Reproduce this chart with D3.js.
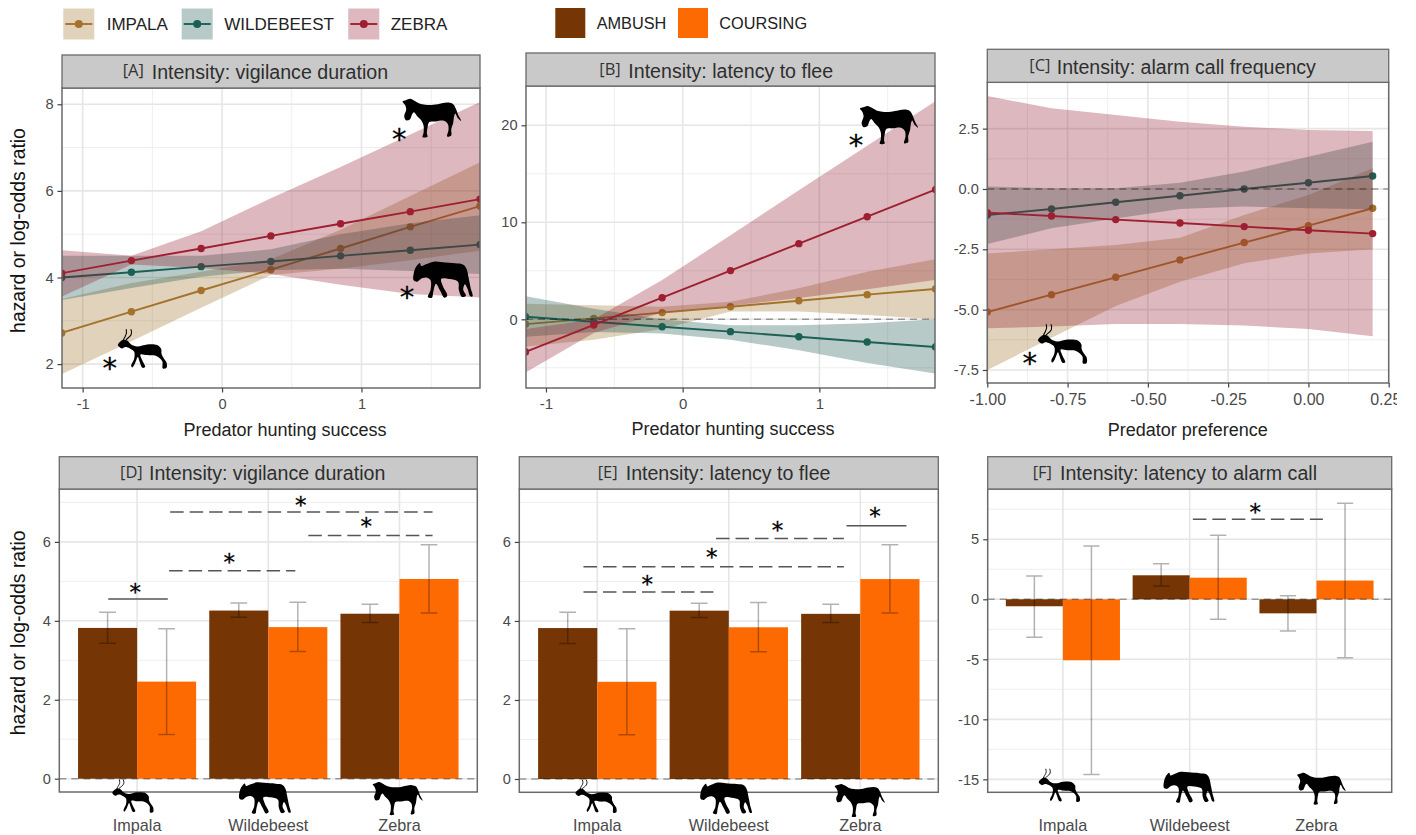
<!DOCTYPE html>
<html>
<head>
<meta charset="utf-8">
<title>Prey responses</title>
<script src="https://cdn.jsdelivr.net/npm/d3@7"></script>
<style>
  html, body { margin: 0; background: #fff; }
  svg { display: block; }
  text { font-family: "Liberation Sans", Arial, sans-serif; }
  .tick text { fill: #4a4a4a; }
</style>
</head>
<body>
<svg id="chart" width="1397" height="835"></svg>
<script>
// values
const species = ["IMPALA", "WILDEBEEST", "ZEBRA"];
const tactics = ["AMBUSH", "COURSING"];
const preyLabels = ["Impala", "Wildebeest", "Zebra"];

const huntX = [-1.15, -0.65, -0.15, 0.35, 0.85, 1.35, 1.85];
const prefX = [-1, -0.8, -0.6, -0.4, -0.2, 0, 0.2];

// [A] vigilance vs hunting success
const aImpala = [2.72, 3.21, 3.7, 4.18, 4.67, 5.17, 5.65];
const aImpalaLo = [1.77, 2.53, 3.3, 4.06, 4.2, 4.4, 4.62];
const aImpalaHi = [3.5, 3.87, 4.13, 4.42, 5.1, 5.88, 6.66];
const aWild = [4.0, 4.12, 4.25, 4.37, 4.5, 4.63, 4.76];
const aWildLo = [3.48, 3.76, 4.02, 4.17, 4.2, 4.15, 4.08];
const aWildHi = [4.5, 4.5, 4.5, 4.65, 5.0, 5.25, 5.44];
const aZebra = [4.1, 4.39, 4.67, 4.96, 5.24, 5.52, 5.81];
const aZebraLo = [3.56, 4.3, 4.22, 4.08, 3.83, 3.62, 3.54];
const aZebraHi = [4.63, 4.5, 5.07, 5.83, 6.55, 7.3, 8.05];

// [B] latency to flee vs hunting success
const bImpala = [-0.5, 0.1, 0.69, 1.3, 1.92, 2.54, 3.13];
const bImpalaLo = [-2.8, -2.1, -1.0, 0.8, 0.8, 0.45, 0];
const bImpalaHi = [1.6, 1.45, 1.3, 1.8, 3.2, 4.9, 6.2];
const bWild = [0.27, -0.25, -0.76, -1.27, -1.79, -2.34, -2.85];
const bWildLo = [-1.8, -1.3, -1.45, -2.1, -3.2, -4.5, -5.6];
const bWildHi = [2.4, 1.1, 0, -0.6, -0.6, -0.4, 0];
const bZebra = [-3.37, -0.58, 2.23, 5.02, 7.8, 10.58, 13.37];
const bZebraLo = [-5.5, -1.4, 0.7, 1.4, 2.2, 3.1, 4.05];
const bZebraHi = [-1.0, 0, 4.04, 8.66, 13.3, 17.9, 22.5];

// [C] alarm calls vs predator preference
const cImpala = [-5.1, -4.38, -3.66, -2.94, -2.22, -1.52, -0.8];
const cImpalaLo = [-7.5, -6.17, -4.85, -3.84, -3.08, -2.67, -2.5];
const cImpalaHi = [-2.67, -2.5, -2.32, -2.02, -1.08, -0.25, 0.86];
const cWild = [-1.08, -0.83, -0.55, -0.28, 0, 0.26, 0.54];
const cWildLo = [-2.28, -1.63, -1.22, -0.83, -0.73, -0.8, -0.84];
const cWildHi = [0.1, 0.03, 0.03, 0.26, 0.72, 1.34, 1.96];
const cZebra = [-0.98, -1.12, -1.27, -1.41, -1.56, -1.71, -1.85];
const cZebraLo = [-5.77, -5.7, -5.6, -5.6, -5.66, -5.8, -6.1];
const cZebraHi = [3.85, 3.34, 3.07, 2.79, 2.58, 2.44, 2.4];

// [D] and [E] share their estimates
const ambush = [3.82, 4.26, 4.18];
const ambushLo = [3.43, 4.09, 3.96];
const ambushHi = [4.22, 4.45, 4.42];
const coursing = [2.46, 3.84, 5.06];
const coursingLo = [1.12, 3.22, 4.2];
const coursingHi = [3.8, 4.47, 5.93];

// [F] latency to alarm call
const fAmbush = [-0.58, 2, -1.17];
const fAmbushLo = [-3.17, 1.1, -2.64];
const fAmbushHi = [1.94, 2.97, 0.3];
const fCoursing = [-5.08, 1.8, 1.56];
const fCoursingLo = [-14.6, -1.67, -4.86];
const fCoursingHi = [4.44, 5.33, 8];

// significance bars: from, to, height, dashed, star x, star y
const sigD = [
  [-0.22, 0.234, 4.55, false, -0.015, 4.83],
  [0.244, 1.206, 5.27, true, 0.702, 5.59],
  [0.252, 2.252, 6.76, true, 1.247, 7.02],
  [1.305, 2.252, 6.16, true, 1.746, 6.49]
];
const sigE = [
  [-0.105, 0.883, 4.73, true, 0.379, 5.03],
  [-0.105, 1.875, 5.37, true, 0.87, 5.71],
  [0.903, 1.875, 6.09, true, 1.371, 6.39],
  [1.895, 2.351, 6.41, false, 2.112, 6.75]
];
const sigF = [[1.025, 2.05, 6.67, true, 1.517, 7.58]];

// silhouettes, in the units of each panel: shape, x, y, scale
const iconsA = [["zebra", 1.242, 8.28, 1 / 3], ["wild", 1.314, 4.52, 1 / 3], ["impala", -0.8, 2.9, 1 / 3]];
const iconsB = [["zebra", 1.244, 22.68, 0.33]];
const iconsC = [["impala", -0.865, -5.44, 1 / 3]];
const iconsD = [["impala", -0.236, 0.066, 0.28], ["wild", 0.724, 0.056, 0.29], ["zebra", 1.748, 0.06, 0.285]];
const iconsE = [["impala", -0.213, 0.066, 0.28], ["wild", 0.73, 0.056, 0.29], ["zebra", 1.758, 0.02, 0.285]];
const iconsF = [["impala", -0.239, -13.84, 0.28], ["wild", 0.74, -13.89, 0.285], ["zebra", 1.8, -13.99, 0.275]];
const starsA = [[1.271, 7.31], [1.326, 3.66], [-0.806, 2.01]];
const starsB = [[1.268, 18.4]];
const starsC = [[-0.868, -7.02]];

const lineColor = { IMPALA: "#a5722c", WILDEBEEST: "#1c5f54", ZEBRA: "#9e1f30" };
const bandColor = { IMPALA: "#996a1e", WILDEBEEST: "#125048", ZEBRA: "#8f1428" };
const barColor = { AMBUSH: "#753504", COURSING: "#fd6a02" };
const bandAlpha = 0.3;

// outlines of the animals, smoothed when drawn
const outline = {
  zebra: "22,28 32,24 45,20 58,26 72,34 90,38 115,38 140,33 160,31 174,36 182,50 188,66 198,86 188,78 180,64 176,76 174,92 168,112 168,130 156,133 160,112 158,96 146,86 122,88 102,90 97,106 95,124 97,134 82,135 85,122 85,100 78,84 66,72 56,60 50,68 44,82 32,84 27,72 33,52 29,38",
  wild: "44,24 48,33 64,27 85,20 112,22 150,25 174,29 184,42 190,68 196,98 202,124 195,124 187,102 179,88 174,104 182,122 170,126 161,106 158,80 132,72 108,72 113,94 126,122 117,128 104,106 92,86 84,110 80,128 68,126 76,104 76,76 66,68 50,70 36,80 25,76 26,52 32,36",
  impala: "22,60 38,44 50,46 62,58 80,64 110,58 140,60 152,72 153,86 160,100 168,112 168,128 157,130 155,108 136,92 110,90 90,88 95,105 104,126 96,128 86,106 82,96 73,116 65,127 62,122 71,100 71,80 58,70 44,66 34,70"
};
const hornPaths = ["M38,46C44,30 52,30 47,12", "M46,44C58,34 68,30 61,12"];
const outlinePath = d3.line().curve(d3.curveCatmullRomClosed.alpha(0.5));

const svg = d3.select("#chart");
let clipCount = 0;

function addFrame(box, xGrid, xMinor, yGrid, yMinor, x, y) {
  const g = svg.append("g");
  g.selectAll("line.minx").data(xMinor).join("line")
    .attr("x1", x).attr("x2", x).attr("y1", box.top).attr("y2", box.bottom)
    .attr("stroke", "#ececec").attr("stroke-width", 0.9);
  g.selectAll("line.miny").data(yMinor).join("line")
    .attr("x1", box.left).attr("x2", box.right).attr("y1", y).attr("y2", y)
    .attr("stroke", "#ececec").attr("stroke-width", 0.9);
  g.selectAll("line.majx").data(xGrid).join("line")
    .attr("x1", x).attr("x2", x).attr("y1", box.top).attr("y2", box.bottom)
    .attr("stroke", "#e6e6e6").attr("stroke-width", 1.6);
  g.selectAll("line.majy").data(yGrid).join("line")
    .attr("x1", box.left).attr("x2", box.right).attr("y1", y).attr("y2", y)
    .attr("stroke", "#e6e6e6").attr("stroke-width", 1.6);
}

function addClip(box) {
  clipCount += 1;
  const id = "clip" + clipCount;
  svg.append("clipPath").attr("id", id).append("rect")
    .attr("x", box.left).attr("y", box.top)
    .attr("width", box.right - box.left).attr("height", box.bottom - box.top);
  return id;
}

function addStrip(box, tag, tagX, title, titleX, textY) {
  svg.append("rect").attr("x", box.left).attr("y", box.stripTop)
    .attr("width", box.right - box.left).attr("height", box.top - box.stripTop)
    .attr("fill", "#c9c9c9").attr("stroke", "#6a6a6a").attr("stroke-width", 1.3);
  svg.append("text").attr("x", tagX).attr("y", textY - 1).attr("dy", "0.35em")
    .style("font-family", "'Open Sans'").attr("font-size", 16.5).attr("fill", "#333").text(tag);
  svg.append("text").attr("x", titleX).attr("y", textY).attr("dy", "0.35em")
    .attr("font-size", 19.6).attr("fill", "#2e2e2e").text(title);
}

function addBorder(box) {
  svg.append("rect").attr("x", box.left).attr("y", box.top)
    .attr("width", box.right - box.left).attr("height", box.bottom - box.top)
    .attr("fill", "none").attr("stroke", "#6a6a6a").attr("stroke-width", 1.5);
}

function addZero(box, y, clipId) {
  svg.append("line").attr("clip-path", `url(#${clipId})`)
    .attr("x1", box.left).attr("x2", box.right).attr("y1", y(0)).attr("y2", y(0))
    .attr("stroke", "#000").attr("stroke-opacity", 0.35).attr("stroke-width", 1.5)
    .attr("stroke-dasharray", "7,5");
}

function addStar(px, py, size) {
  svg.append("text").attr("x", px).attr("y", py).attr("dy", "0.5em")
    .attr("text-anchor", "middle").style("font-family", "'DejaVu Sans'")
    .attr("font-size", size).attr("fill", "#000").attr("stroke", "#000").attr("stroke-width", 0.3)
    .text("*");
}

function addIcon(icon, x, y) {
  const g = svg.append("g")
    .attr("transform", `translate(${x(icon[1])},${y(icon[2])}) scale(${icon[3]})`);
  const pts = outline[icon[0]].split(" ").map(p => p.split(",").map(Number));
  g.append("path").attr("d", outlinePath(pts)).attr("fill", "#000");
  if (icon[0] === "impala") {
    g.selectAll(null).data(hornPaths).join("path").attr("d", d => d)
      .attr("fill", "none").attr("stroke", "#000").attr("stroke-width", 3.2);
  }
}

function axisStyle(g) {
  g.select(".domain").remove();
  g.selectAll(".tick line").attr("stroke", "#444").attr("stroke-width", 1.2);
}

function linePanel(o) {
  const box = o.box;
  const x = d3.scaleLinear().domain(o.xDomain).range([box.left, box.right]);
  const y = d3.scaleLinear().domain(o.yDomain).range([box.bottom, box.top]);
  addFrame(box, o.xGrid, o.xMinor, o.yGrid, o.yMinor, x, y);
  const clipId = addClip(box);
  const plot = svg.append("g").attr("clip-path", `url(#${clipId})`);

  // band first, then line, per species: the later bands sit over the earlier lines
  o.series.forEach(s => {
    const idx = d3.range(o.xs.length);
    plot.append("path").datum(idx)
      .attr("fill", bandColor[s.key]).attr("fill-opacity", bandAlpha)
      .attr("d", d3.area().x(i => x(o.xs[i])).y0(i => y(s.lo[i])).y1(i => y(s.hi[i])));
    plot.append("path").datum(idx)
      .attr("fill", "none").attr("stroke", lineColor[s.key]).attr("stroke-width", 1.9)
      .attr("d", d3.line().x(i => x(o.xs[i])).y(i => y(s.mean[i])));
    plot.selectAll(null).data(idx).join("circle")
      .attr("cx", i => x(o.xs[i])).attr("cy", i => y(s.mean[i])).attr("r", 3.7)
      .attr("fill", lineColor[s.key]);
  });
  addZero(box, y, clipId);
  addBorder(box);

  svg.append("g").attr("transform", `translate(${box.left},0)`)
    .call(d3.axisLeft(y).tickValues(o.yGrid).tickFormat(o.yFmt).tickSize(4.5).tickPadding(4))
    .call(axisStyle).selectAll("text").attr("font-size", 14.6).style("font-family", "'Liberation Sans'");
  const xAxis = svg.append("g").attr("transform", `translate(0,${box.bottom})`)
    .call(d3.axisBottom(x).tickValues(o.xGrid).tickFormat(o.xFmt).tickSize(4.5).tickPadding(6))
    .call(axisStyle);
  xAxis.selectAll("text").attr("font-size", o.xFont).attr("fill", "#333").style("font-family", "'Liberation Sans'");
  if (o.lastTickShift) xAxis.selectAll(".tick:last-of-type text").attr("dx", o.lastTickShift);

  svg.append("text").attr("x", o.xTitleX).attr("y", o.xTitleY).attr("dy", "0.35em")
    .attr("text-anchor", "middle").attr("font-size", 18).attr("fill", "#222").text(o.xTitle);

  addStrip(box, o.tag, o.tagX, o.title, o.titleX, o.titleY);
  o.icons.forEach(ic => addIcon(ic, x, y));
  o.stars.forEach(s => addStar(x(s[0]), y(s[1]), 29));
}

function barPanel(o) {
  const box = o.box;
  const band = d3.scaleBand().domain(preyLabels).range([box.left, box.right])
    .paddingInner(0.1).paddingOuter(0.143);
  const sub = d3.scaleBand().domain(tactics).range([0, band.bandwidth()]);
  const mid = c => band(c) + band.bandwidth() / 2;
  const pos = d3.scaleLinear().domain([0, 2]).range([mid(preyLabels[0]), mid(preyLabels[2])]);
  const y = d3.scaleLinear().domain(o.yDomain).range([box.bottom, box.top]);
  addFrame(box, preyLabels, [], o.yGrid, o.yMinor, d => mid(d), y);
  const clipId = addClip(box);

  const plot = svg.append("g");
  const rows = [];
  preyLabels.forEach((c, i) => {
    rows.push({ c, t: "AMBUSH", v: o.amb[i], lo: o.ambLo[i], hi: o.ambHi[i] });
    rows.push({ c, t: "COURSING", v: o.cou[i], lo: o.couLo[i], hi: o.couHi[i] });
  });
  plot.selectAll("rect").data(rows).join("rect")
    .attr("x", d => band(d.c) + sub(d.t)).attr("width", sub.bandwidth())
    .attr("y", d => Math.min(y(0), y(d.v))).attr("height", d => Math.abs(y(0) - y(d.v)))
    .attr("fill", d => barColor[d.t]);
  addZero(box, y, clipId);

  const cx = d => band(d.c) + sub(d.t) + sub.bandwidth() / 2;
  const cap = sub.bandwidth() * 0.142;
  const err = plot.append("g").attr("stroke", "#000").attr("stroke-opacity", 0.3)
    .attr("stroke-width", 1.5).attr("fill", "none");
  err.selectAll("path").data(rows).join("path")
    .attr("d", d => `M${cx(d) - cap},${y(d.hi)}H${cx(d) + cap}M${cx(d)},${y(d.hi)}V${y(d.lo)}M${cx(d) - cap},${y(d.lo)}H${cx(d) + cap}`);

  addBorder(box);

  svg.append("g").attr("transform", `translate(${box.left},0)`)
    .call(d3.axisLeft(y).tickValues(o.yGrid).tickFormat(d => String(d)).tickSize(4.5).tickPadding(4))
    .call(axisStyle).selectAll("text").attr("font-size", 14.6).style("font-family", "'Liberation Sans'");
  svg.append("g").attr("transform", `translate(0,${box.bottom})`)
    .call(d3.axisBottom(band).tickSize(0).tickPadding(o.labelPad))
    .call(axisStyle).selectAll("text").attr("font-size", 16.2).attr("fill", "#222").style("font-family", "'Liberation Sans'");

  o.sig.forEach(s => {
    svg.append("line").attr("x1", pos(s[0])).attr("x2", pos(s[1])).attr("y1", y(s[2])).attr("y2", y(s[2]))
      .attr("stroke", "#555").attr("stroke-width", 1.5)
      .attr("stroke-dasharray", s[3] ? "13.5,6" : null);
    addStar(pos(s[4]), y(s[5]), 23);
  });

  addStrip(box, o.tag, o.tagX, o.title, o.titleX, o.titleY);
  o.icons.forEach(ic => addIcon(ic, pos, y));
}

// legends
const legendLeft = d3.scaleOrdinal().domain(species).range([63.3, 181.7, 348.3]);
const legendText = d3.scaleOrdinal().domain(species).range([106.7, 224.3, 390.7]);
species.forEach(k => {
  const lx = legendLeft(k);
  svg.append("rect").attr("x", lx).attr("y", 8.5).attr("width", 31).attr("height", 31)
    .attr("fill", bandColor[k]).attr("fill-opacity", bandAlpha);
  svg.append("line").attr("x1", lx + 2).attr("x2", lx + 29).attr("y1", 24).attr("y2", 24)
    .attr("stroke", lineColor[k]).attr("stroke-width", 1.9);
  svg.append("circle").attr("cx", lx + 15.5).attr("cy", 24).attr("r", 4).attr("fill", lineColor[k]);
  svg.append("text").attr("x", legendText(k)).attr("y", 24.3).attr("dy", "0.35em")
    .attr("font-size", 17).attr("fill", "#222").text(k);
});
const barLeft = d3.scaleOrdinal().domain(tactics).range([555.3, 678]);
const barText = d3.scaleOrdinal().domain(tactics).range([596.7, 719.3]);
tactics.forEach(k => {
  svg.append("rect").attr("x", barLeft(k)).attr("y", 8).attr("width", 30).attr("height", 30).attr("fill", barColor[k]);
  svg.append("text").attr("x", barText(k)).attr("y", 23.3).attr("dy", "0.35em")
    .attr("font-size", 16.3).attr("fill", "#222").text(k);
});

const fmtPlain = d => String(d);

linePanel({
  box: { left: 62, right: 480, stripTop: 55, top: 88, bottom: 388 },
  xDomain: [-1.148, 1.85], yDomain: [1.448, 8.376], xs: huntX,
  xGrid: [-1, 0, 1], xMinor: [-0.5, 0.5, 1.5], yGrid: [2, 4, 6, 8], yMinor: [3, 5, 7],
  xFmt: fmtPlain, yFmt: fmtPlain, xFont: 14.6,
  series: [
    { key: "IMPALA", mean: aImpala, lo: aImpalaLo, hi: aImpalaHi },
    { key: "WILDEBEEST", mean: aWild, lo: aWildLo, hi: aWildHi },
    { key: "ZEBRA", mean: aZebra, lo: aZebraLo, hi: aZebraHi }
  ],
  xTitle: "Predator hunting success", xTitleX: 285, xTitleY: 429.3,
  tag: "[A]", tagX: 122.7, title: "Intensity: vigilance duration", titleX: 151.7, titleY: 71.7,
  icons: iconsA, stars: starsA
});

linePanel({
  box: { left: 526, right: 935, stripTop: 53, top: 86, bottom: 388 },
  xDomain: [-1.146, 1.846], yDomain: [-7.08, 24.05], xs: huntX,
  xGrid: [-1, 0, 1], xMinor: [-0.5, 0.5, 1.5], yGrid: [0, 10, 20], yMinor: [-5, 5, 15],
  xFmt: fmtPlain, yFmt: fmtPlain, xFont: 15,
  series: [
    { key: "IMPALA", mean: bImpala, lo: bImpalaLo, hi: bImpalaHi },
    { key: "WILDEBEEST", mean: bWild, lo: bWildLo, hi: bWildHi },
    { key: "ZEBRA", mean: bZebra, lo: bZebraLo, hi: bZebraHi }
  ],
  xTitle: "Predator hunting success", xTitleX: 733, xTitleY: 429,
  tag: "[B]", tagX: 599.3, title: "Intensity: latency to flee", titleX: 628.3, titleY: 70.7,
  icons: iconsB, stars: starsB
});

linePanel({
  box: { left: 987.3, right: 1388.7, stripTop: 49.3, top: 82.3, bottom: 383 },
  xDomain: [-1, 0.25], yDomain: [-8.04, 4.42], xs: prefX,
  xGrid: [-1, -0.75, -0.5, -0.25, 0, 0.25], xMinor: [-0.875, -0.625, -0.375, -0.125, 0.125],
  yGrid: [-7.5, -5, -2.5, 0, 2.5], yMinor: [-6.25, -3.75, -1.25, 1.25, 3.75],
  xFmt: d => d.toFixed(2), yFmt: d => d.toFixed(1), xFont: 16, lastTickShift: -3.5,
  series: [
    { key: "IMPALA", mean: cImpala, lo: cImpalaLo, hi: cImpalaHi },
    { key: "WILDEBEEST", mean: cWild, lo: cWildLo, hi: cWildHi },
    { key: "ZEBRA", mean: cZebra, lo: cZebraLo, hi: cZebraHi }
  ],
  xTitle: "Predator preference", xTitleX: 1187.8, xTitleY: 430,
  tag: "[C]", tagX: 1029.3, title: "Intensity: alarm call frequency", titleX: 1056.7, titleY: 66.7,
  icons: iconsC, stars: starsC
});

barPanel({
  box: { left: 59.3, right: 477.3, stripTop: 456.7, top: 489, bottom: 792 },
  yDomain: [-0.337, 7.34], yGrid: [0, 2, 4, 6], yMinor: [1, 3, 5, 7],
  amb: ambush, ambLo: ambushLo, ambHi: ambushHi, cou: coursing, couLo: coursingLo, couHi: coursingHi,
  sig: sigD, icons: iconsD, labelPad: 27,
  tag: "[D]", tagX: 120, title: "Intensity: vigilance duration", titleX: 149, titleY: 473.3
});

barPanel({
  box: { left: 519.3, right: 938.3, stripTop: 456.7, top: 489, bottom: 792.3 },
  yDomain: [-0.337, 7.34], yGrid: [0, 2, 4, 6], yMinor: [1, 3, 5, 7],
  amb: ambush, ambLo: ambushLo, ambHi: ambushHi, cou: coursing, couLo: coursingLo, couHi: coursingHi,
  sig: sigE, icons: iconsE, labelPad: 27,
  tag: "[E]", tagX: 597.7, title: "Intensity: latency to flee", titleX: 625.7, titleY: 473.3
});

barPanel({
  box: { left: 987.7, right: 1391.7, stripTop: 456.7, top: 489, bottom: 792.3 },
  yDomain: [-16.08, 9.19], yGrid: [-15, -10, -5, 0, 5], yMinor: [-12.5, -7.5, -2.5, 2.5, 7.5],
  amb: fAmbush, ambLo: fAmbushLo, ambHi: fAmbushHi, cou: fCoursing, couLo: fCoursingLo, couHi: fCoursingHi,
  sig: sigF, icons: iconsF, labelPad: 27,
  tag: "[F]", tagX: 1032.7, title: "Intensity: latency to alarm call", titleX: 1060, titleY: 473.3
});

// shared y titles
[230.5, 632.8].forEach(cy => {
  svg.append("text").attr("transform", `translate(18,${cy}) rotate(-90)`).attr("dy", "0.35em")
    .attr("text-anchor", "middle").attr("font-size", 19.4).attr("fill", "#111")
    .text("hazard or log-odds ratio");
});
</script>
</body>
</html>
